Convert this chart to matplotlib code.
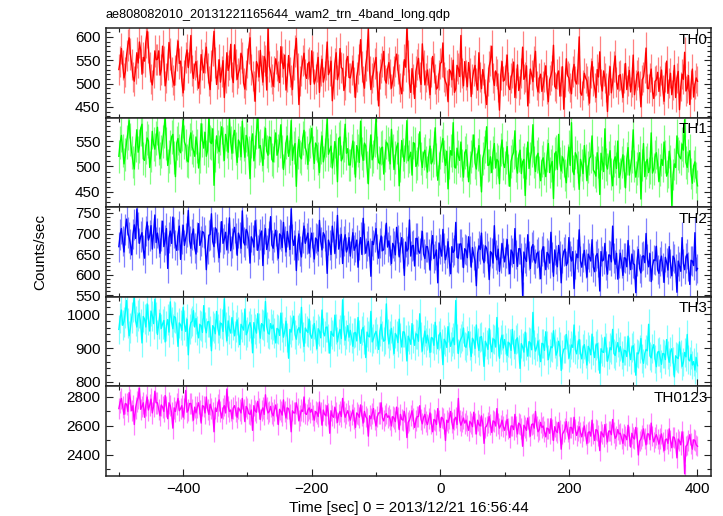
import numpy as np
import matplotlib
matplotlib.use('Agg')
import matplotlib.pyplot as plt
from matplotlib.ticker import MultipleLocator

plt.rcParams['font.family'] = ['Liberation Sans', 'DejaVu Sans']

title = 'ae808082010_20131221165644_wam2_trn_4band_long.qdp'
xlabel = 'Time [sec] 0 = 2013/12/21 16:56:44'
ylabel = 'Counts/sec'
BIN_SEC = 0.5  # light curve bin width, used for poisson error bars

# time range of the light curve (sec)
t_start, t_stop = -500, 400

# count rates (every ~2 s)
th0 = [530,548,575,540,512,525,560,582,598,563,541,515,505,531,566,544,589,571,520,556,548,590,612,578,535,509,497,523,570,551,
       552,570,518,530,580,547,495,512,541,588,563,524,507,496,529,561,591,543,548,505,480,519,556,572,534,557,603,528,511,540,
       547,518,490,509,562,541,523,556,578,533,505,487,539,571,612,545,498,520,551,503,526,549,470,512,566,528,540,584,515,502,
       583,541,509,522,532,565,556,501,488,519,544,576,598,530,517,495,462,547,538,514,571,529,503,558,549,486,620,537,526,510,
       494,526,553,539,517,502,579,548,532,561,486,513,560,524,508,487,541,570,597,533,455,506,528,549,565,520,511,542,546,498,
       570,537,499,510,535,556,481,528,552,503,516,541,589,519,527,548,463,499,543,566,508,521,575,534,532,485,496,550,558,513,
       512,529,548,503,470,515,531,552,594,537,505,490,539,561,618,526,487,511,524,543,556,496,452,520,533,547,569,508,501,532,
       545,520,490,506,527,548,563,531,509,492,478,517,551,535,622,559,500,481,532,509,468,526,541,554,514,498,585,540,497,513,
       529,501,476,524,558,533,510,488,492,519,543,546,587,514,504,497,461,530,525,508,550,481,489,539,532,515,603,522,495,547,
       518,493,545,522,472,510,528,539,501,486,566,515,489,530,512,478,455,504,537,549,580,512,496,527,520,491,443,518,547,505,
       508,530,561,494,487,512,523,546,470,501,540,485,499,523,578,509,515,538,452,490,531,519,504,547,569,496,482,511,520,483,
       496,515,538,487,461,508,517,529,582,494,489,520,527,473,506,536,445,502,553,517,512,491,478,526,541,505,499,532,600,480,
       475,497,522,512,506,485,458,523,547,506,491,470,530,514,568,499,484,527,512,491,440,508,536,480,501,536,559,503,488,517,
       519,492,470,511,543,487,505,528,482,503,561,476,497,519,525,495,450,508,514,534,576,490,489,513,531,482,468,505,508,524,
       483,506,529,488,462,515,548,479,501,522,476,497,539,470,512,526,444,493,520,509,567,484,490,517,455,498,531,471,498,512,
       505]
th1 = [520,547,561,532,505,524,548,566,590,553,527,509,495,541,572,528,540,575,583,515,512,537,556,550,498,521,569,544,534,556,
       577,536,515,529,549,571,596,545,502,520,538,558,563,517,480,546,555,532,527,563,590,548,541,512,509,553,566,538,531,520,
       558,540,497,519,584,552,536,567,520,531,597,548,545,574,463,522,560,539,529,556,578,544,512,563,549,528,595,547,526,560,
       571,535,508,552,546,519,589,544,518,561,553,527,476,549,564,511,530,568,598,536,541,523,502,547,575,530,522,558,557,514,
       509,541,566,522,531,549,582,530,494,516,547,560,520,535,590,512,537,545,461,528,553,519,515,556,571,537,528,504,543,549,
       575,528,506,546,541,515,488,537,560,509,523,551,594,524,532,540,497,518,549,533,470,555,558,511,517,542,583,526,535,503,
       503,532,550,517,479,541,531,508,589,525,512,546,540,499,466,530,562,513,520,552,597,527,508,505,536,538,485,521,548,544,
       527,505,573,531,494,518,538,546,462,502,551,524,510,539,590,511,519,528,483,547,545,500,506,533,568,515,498,526,532,509,
       489,523,540,505,511,537,576,514,473,496,528,541,555,519,502,530,456,508,531,522,586,499,497,536,520,512,548,503,479,527,
       533,512,470,498,519,531,562,507,495,524,541,493,450,516,527,539,578,502,503,519,488,528,545,497,514,510,466,533,552,506,
       498,517,539,493,461,510,521,528,570,501,487,522,532,486,509,514,443,507,548,496,515,531,582,509,490,520,526,489,472,511,
       517,496,480,521,545,488,502,510,437,525,529,494,563,507,491,519,511,483,468,512,538,502,586,491,484,527,520,499,455,514,
       503,486,541,512,472,499,516,520,560,493,489,481,527,509,445,526,508,490,574,504,495,517,531,485,462,511,519,496,550,478,
       486,509,523,492,458,515,537,483,501,520,572,501,479,496,512,527,436,503,545,480,508,514,488,498,566,487,495,519,527,505,
       470,493,514,502,548,520,481,489,530,511,423,484,505,498,560,526,519,515,544,532,592,508,498,521,531,486,467,501,509,478,
       462]
th2 = [668,697,712,681,655,710,735,702,690,674,648,699,721,688,760,715,676,693,702,660,640,706,728,684,695,719,662,701,745,678,
       701,679,652,695,730,668,684,712,615,690,706,676,740,703,673,659,697,718,637,686,720,671,689,704,756,682,664,697,711,665,
       650,692,724,671,681,705,702,684,612,662,695,698,748,680,668,714,709,667,641,693,729,676,686,703,660,689,738,658,677,700,
       715,688,647,701,690,664,755,679,672,710,703,683,628,692,684,667,731,698,659,675,697,706,622,687,712,661,676,694,741,672,
       664,691,708,673,640,699,695,666,727,682,655,705,683,661,760,687,671,694,610,672,699,658,643,690,718,676,688,701,652,679,
       701,668,638,689,685,657,732,680,660,702,695,671,603,684,672,649,718,693,651,677,744,662,680,698,627,681,697,655,666,690,
       645,676,702,659,668,684,618,672,690,649,737,688,652,670,681,654,596,681,673,692,712,663,640,677,694,658,661,686,725,667,
       682,659,627,676,669,648,715,684,643,667,690,652,598,679,657,663,733,645,670,671,621,688,688,657,652,673,705,650,639,668,
       668,650,611,671,695,639,647,660,580,677,662,645,710,664,636,652,680,631,602,668,654,659,727,642,640,674,675,655,617,663,
       659,641,692,657,618,666,647,633,573,652,670,661,701,639,629,670,664,645,588,656,652,628,719,648,636,662,608,640,676,654,
       631,652,685,638,602,660,654,627,712,649,620,663,663,641,549,655,640,632,697,646,615,666,673,637,628,651,655,624,590,658,
       668,635,612,654,649,628,703,643,596,660,637,619,671,647,580,639,656,662,622,630,690,645,633,656,566,624,650,641,709,633,
       618,641,659,627,594,650,642,633,685,618,607,645,651,629,560,656,633,636,676,622,601,648,647,631,718,640,625,652,589,626,
       652,628,598,641,640,619,683,637,612,650,627,624,556,633,661,615,604,644,646,629,700,638,619,651,583,621,636,634,669,612,
       603,631,645,618,581,642,630,611,668,626,597,645,639,616,557,633,620,608,690,627,612,640,650,619,576,635,633,622,702,609,
       615]
th3 = [955,988,1012,967,978,1005,1040,974,936,959,990,1021,1048,981,962,996,1003,970,915,993,985,962,1030,984,950,1009,995,972,1044,990,
       940,972,1002,958,971,981,918,966,984,947,1036,977,957,993,990,961,905,974,968,952,1020,969,949,985,880,956,975,979,1010,962,
       987,952,930,969,966,946,1025,963,945,977,978,951,892,966,960,942,1008,958,938,974,971,949,1045,961,922,980,955,944,990,967,
       936,961,983,947,910,970,962,953,1015,939,948,966,975,958,886,975,957,944,1001,959,929,972,968,950,1037,963,944,941,972,957,
       968,944,915,958,955,937,1003,962,932,949,979,931,870,955,947,968,994,940,926,953,960,945,1020,933,905,959,951,946,985,938,
       929,951,972,938,898,957,950,930,1012,946,936,961,962,927,885,949,940,935,997,956,918,942,955,928,1042,953,923,940,966,932,
       952,930,905,944,946,921,990,939,914,952,961,926,872,947,935,933,1008,918,927,941,949,928,896,950,970,936,920,924,1030,943,
       912,937,958,921,884,943,936,916,985,930,903,948,947,924,862,935,925,911,972,929,908,942,940,920,1001,933,891,926,950,915,
       938,915,887,931,929,908,976,924,898,937,945,912,851,926,918,902,963,933,905,919,930,910,1040,928,884,917,927,935,959,906,
       902,922,948,907,875,929,921,899,968,916,893,931,934,905,846,920,910,896,957,913,889,927,925,903,990,918,870,924,938,900,
       925,901,878,917,912,893,955,910,884,924,930,897,840,913,903,888,947,906,876,919,915,895,1005,911,891,903,921,885,860,914,
       912,893,948,907,866,885,904,901,951,914,879,890,920,904,834,881,897,898,940,911,870,887,909,902,968,895,883,909,925,884,
       868,899,910,884,850,905,897,880,941,893,872,907,913,876,826,898,889,887,932,903,861,879,901,895,955,884,878,901,916,889,
       904,880,858,893,892,875,935,889,866,901,907,872,820,886,883,897,928,869,855,884,896,892,970,877,871,899,910,868,845,888,
       890,871,852,884,883,866,925,879,858,890,898,862,815,877,872,869,918,883,846,858,887,874,940,866,862,881,850,860,835,872,
       848]
th0123 = [2720,2765,2790,2730,2680,2755,2750,2700,2830,2780,2705,2740,2610,2725,2770,2795,2860,2715,2735,2760,2660,2745,2800,2710,2745,2785,2690,2735,2840,2760,
          2760,2715,2670,2745,2730,2700,2810,2735,2650,2760,2740,2690,2585,2725,2700,2750,2790,2705,2720,2740,2660,2720,2845,2695,2710,2755,2755,2710,2640,2730,
          2690,2730,2760,2705,2620,2740,2735,2690,2800,2715,2680,2750,2720,2695,2560,2725,2700,2745,2780,2700,2655,2720,2740,2690,2855,2735,2700,2710,2650,2725,
          2740,2700,2660,2725,2710,2690,2790,2715,2630,2735,2720,2685,2680,2710,2570,2740,2705,2695,2770,2720,2645,2705,2725,2680,2815,2725,2690,2700,2735,2690,
          2670,2710,2745,2685,2610,2715,2700,2675,2780,2700,2655,2725,2720,2680,2560,2705,2690,2690,2760,2720,2635,2675,2710,2700,2800,2685,2680,2710,2725,2695,
          2715,2675,2640,2700,2690,2665,2765,2690,2605,2710,2680,2670,2740,2685,2550,2705,2670,2660,2730,2695,2625,2680,2700,2665,2790,2700,2660,2685,2705,2670,
          2640,2680,2710,2655,2590,2690,2680,2660,2745,2675,2620,2700,2665,2650,2530,2670,2650,2685,2720,2645,2600,2665,2690,2690,2760,2655,2635,2675,2685,2660,
          2670,2645,2600,2665,2655,2630,2730,2660,2575,2680,2645,2640,2700,2655,2520,2625,2640,2670,2705,2650,2590,2635,2665,2665,2740,2645,2615,2660,2680,2630,
          2610,2650,2690,2620,2560,2645,2640,2610,2720,2635,2590,2660,2650,2615,2500,2640,2625,2655,2700,2625,2580,2645,2660,2610,2790,2640,2605,2630,2655,2620,
          2640,2605,2570,2630,2620,2595,2695,2620,2545,2640,2610,2600,2670,2615,2480,2590,2600,2625,2665,2610,2555,2635,2630,2600,2720,2620,2585,2605,2640,2595,
          2570,2610,2645,2585,2520,2600,2600,2575,2680,2595,2545,2620,2610,2580,2460,2605,2590,2570,2655,2595,2530,2610,2615,2585,2700,2600,2560,2575,2625,2590,
          2600,2560,2525,2585,2580,2550,2650,2575,2500,2595,2565,2555,2625,2570,2440,2545,2560,2580,2630,2560,2510,2590,2590,2550,2660,2575,2535,2565,2595,2555,
          2525,2565,2600,2540,2480,2555,2560,2530,2640,2550,2500,2575,2570,2535,2430,2560,2545,2525,2610,2550,2490,2565,2565,2540,2645,2555,2515,2530,2575,2545,
          2550,2515,2480,2540,2530,2505,2605,2530,2455,2550,2520,2510,2590,2525,2400,2495,2510,2535,2580,2515,2470,2545,2545,2505,2620,2530,2490,2520,2540,2510,
          2475,2515,2545,2490,2430,2505,2510,2480,2580,2500,2450,2525,2520,2485,2380,2510,2495,2470,2560,2495,2270,2460,2470,2500,2540,2480,2440,2505,2500,2470,
          2460]

bands = ['TH0', 'TH1', 'TH2', 'TH3', 'TH0123']
series = [th0, th1, th2, th3, th0123]
line_colors = ['#ff0000', '#00ff00', '#0000ff', '#00ffff', '#ff00ff']
err_colors = ['#ff8080', '#80ff80', '#8080ff', '#80ffff', '#ff80ff']
ylims = [(427, 619), (420, 596), (546, 764), (787, 1051), (2255, 2873)]
y_major = [50, 50, 50, 100, 200]
y_minor = [10, 10, 10, 20, 100]

W, H = 723, 516
fig = plt.figure(figsize=(W / 100, H / 100), dpi=100)

left, right = 106 / W, 711 / W
top, bottom = 1 - 28 / H, 1 - 476 / H
ph = (top - bottom) / len(bands)

for i, (name, vals) in enumerate(zip(bands, series)):
    ax = fig.add_axes([left, top - (i + 1) * ph, right - left, ph])
    v = np.array(vals, dtype=float)
    t = np.linspace(t_start, t_stop, len(v))
    err = np.sqrt(v / BIN_SEC)
    ax.errorbar(t, v, yerr=err, fmt='none', ecolor=err_colors[i], elinewidth=0.9, zorder=1)
    ax.plot(t, v, color=line_colors[i], lw=1.0, zorder=2)

    ax.set_xlim(-520, 421)
    ax.set_ylim(*ylims[i])
    ax.xaxis.set_major_locator(MultipleLocator(200))
    ax.xaxis.set_minor_locator(MultipleLocator(100))
    ax.yaxis.set_major_locator(MultipleLocator(y_major[i]))
    ax.yaxis.set_minor_locator(MultipleLocator(y_minor[i]))
    ax.tick_params(which='both', direction='in', top=True, right=True,
                   labelsize=11, width=0.8, color='#222222', pad=4)
    ax.tick_params(which='major', length=5)
    ax.tick_params(which='minor', length=2.8)
    for s in ax.spines.values():
        s.set_linewidth(1.1)
        s.set_color('#222222')
    if i < len(bands) - 1:
        ax.tick_params(labelbottom=False)
    ax.text(0.995, 0.87, name, transform=ax.transAxes, ha='right', va='center',
            fontsize=11, zorder=3)

fig.text(left, 1 - 15 / H, title, ha='left', va='center', fontsize=9.2)
fig.text(40 / W, 1 - 252 / H, ylabel, rotation=90, ha='center', va='center', fontsize=11)
fig.text((left + right) / 2, 1 - 508 / H, xlabel, ha='center', va='center', fontsize=11)

fig.savefig('out.png', dpi=100)
